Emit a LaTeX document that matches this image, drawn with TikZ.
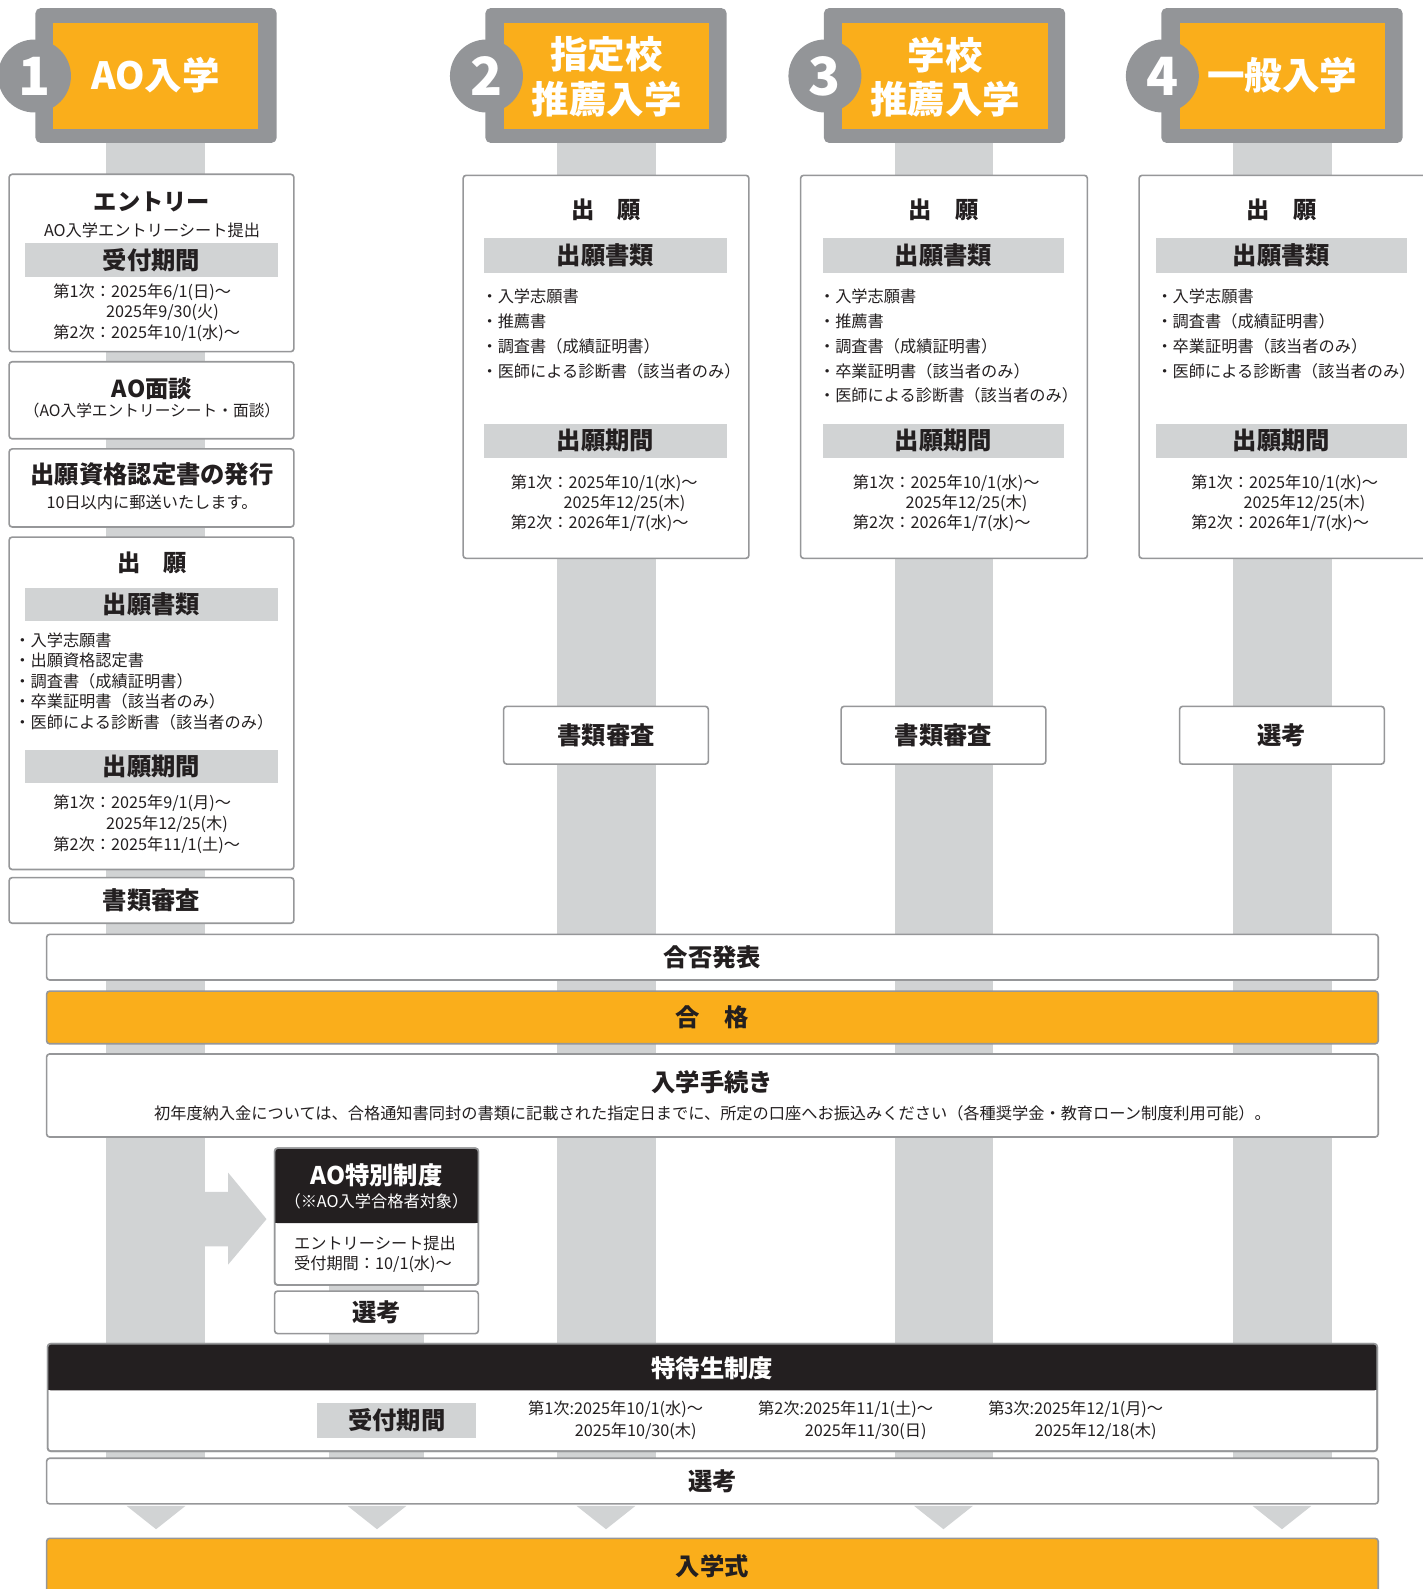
\documentclass[tikz,border=0pt]{standalone}
\usepackage{fontspec}
\setmainfont{Noto Sans CJK JP}
\definecolor{orng}{RGB}{250,174,27}
\definecolor{dgray}{RGB}{147,149,152}
\definecolor{lgray}{RGB}{209,211,212}
\definecolor{edge}{RGB}{150,151,153}
\definecolor{ink}{RGB}{35,31,32}
\newcommand{\fsz}[1]{\fontsize{#1}{#1}\selectfont}
\newcommand{\rbox}[6]{%
 \pgfmathsetmacro{\rbcx}{(#3+#5)/2}%
 \pgfmathsetmacro{\rbcy}{(#4+#6)/2}%
 \pgfmathsetmacro{\rbw}{#5-#3}%
 \pgfmathsetmacro{\rbh}{#6-#4}%
 \node[#2, minimum width=\rbw pt, minimum height=\rbh pt, inner sep=0pt, outer sep=0pt] (#1) at (\rbcx,\rbcy) {};}
\tikzset{
 tx/.style={inner sep=0pt, text=ink},
 hd/.style={tx, font=\fsz{24}\bfseries},
 sm/.style={tx, font=\fsz{16}},
 li/.style={sm, anchor=west},
 wh/.style={inner sep=0pt, text=white, font=\fsz{37}\bfseries},
 whs/.style={inner sep=0pt, text=white},
 num/.style={inner sep=0pt, text=white, font=\fsz{52}\bfseries},
 rb/.style={draw=edge, line width=1.6pt, rounded corners=3pt, fill=white},
 rbo/.style={rb, fill=orng},
 rbline/.style={draw=edge, line width=1.6pt, rounded corners=3pt},
 band/.style={fill=lgray},
 frame/.style={fill=dgray, rounded corners=5pt},
 orbox/.style={fill=orng},
 badge/.style={circle, fill=dgray, minimum size=72pt, inner sep=0pt},
}
\begin{document}
\begin{tikzpicture}[x=1pt,y=-1pt]
\useasboundingbox (0,0) rectangle (1404,1568);
\clip (0,0) rectangle (1404,1568);
% ---------- column bars ----------
\fill[lgray] (105,141) rectangle (202,1484);
\fill[lgray] (550,141) rectangle (647,1484);
\fill[lgray] (883,141) rectangle (980,1484);
\fill[lgray] (1217,141) rectangle (1314,1484);
\fill[lgray] (325,1210) rectangle (418,1484);
% triangles
\foreach \c in {154,372,598,931,1265}{
  \fill[lgray] (\c-29,1486) -- (\c+29,1486) -- (\c,1509) -- cycle;}
% arrow to AO special
\fill[lgray] (202,1176) -- (225,1176) -- (225,1157) -- (263,1203) -- (225,1248) -- (225,1230) -- (202,1230) -- cycle;
% ---------- headers ----------
\rbox{f1}{frame}{35}{8}{273}{141}
\rbox{o1}{orbox}{52}{23}{255}{127}
\node[badge] (c1) at (34,75) {};
\node[num] (n1) at (c1) {1};
\node[wh] (h1) at (153.5,74.5) {AO入学};
\rbox{f2}{frame}{479}{8}{717}{141}
\rbox{o2}{orbox}{497}{23}{700}{127}
\node[badge] (c2) at (480,75) {};
\node[num] (n2) at (c2) {2};
\node[wh] (h2a) at (598.5,54) {指定校};
\node[wh] (h2b) at (598.5,98) {推薦入学};
\rbox{f3}{frame}{813}{8}{1051}{141}
\rbox{o3}{orbox}{831}{23}{1034}{127}
\node[badge] (c3) at (814,75) {};
\node[num] (n3) at (c3) {3};
\node[wh] (h3a) at (932.5,54) {学校};
\node[wh] (h3b) at (932.5,98) {推薦入学};
\rbox{f4}{frame}{1146}{8}{1384}{141}
\rbox{o4}{orbox}{1164}{23}{1367}{127}
\node[badge] (c4) at (1147,75) {};
\node[num] (n4) at (c4) {4};
\node[wh] (h4) at (1265.5,74.5) {一般入学};
% ---------- column 1 ----------
\rbox{entry}{rb}{9}{172}{290}{347}
\node[tx, font=\fsz{23}\bfseries] (t-entry) at (150,199) {エントリー};
\node[sm] (t-entrysub) at (150,227.5) {AO入学エントリーシート提出};
\rbox{b-uke1}{band}{25}{240}{274}{273}
\node[hd] (t-uke1) at (b-uke1) {受付期間};
\node[li] (d1a) at (52.5,288.5) {第1次：2025年6/1(日)～};
\node[li] (d1b) at (104.5,308.5) {2025年9/30(火)};
\node[li] (d1c) at (52.5,328.5) {第2次：2025年10/1(水)～};
\rbox{mendan}{rb}{9}{357}{290}{433}
\node[tx, font=\fsz{23}\bfseries] (t-mendan) at (150,384) {AO面談};
\node[tx, font=\fsz{15.5}] (t-mendansub) at (150,405) {（AO入学エントリーシート・面談）};
\rbox{nintei}{rb}{9}{443}{290}{520}
\node[hd] (t-nintei) at (150,468) {出願資格認定書の発行};
\node[sm] (t-ninteisub) at (150,496) {10日以内に郵送いたします。};
\rbox{gan1}{rb}{9}{530}{290}{858}
\node[tx, font=\fsz{23}\bfseries] (t-gan1) at (150,555) {出\hspace{1em}願};
\rbox{b-sho1}{band}{25}{580}{274}{613}
\node[hd] (t-sho1) at (b-sho1) {出願書類};
\node[li] (i1a) at (14,632) {・入学志願書};
\node[li] (i1b) at (14,652) {・出願資格認定書};
\node[li] (i1c) at (14,672) {・調査書（成績証明書）};
\node[li] (i1d) at (14,692) {・卒業証明書（該当者のみ）};
\node[li] (i1e) at (14,713) {・医師による診断書（該当者のみ）};
\rbox{b-ki1}{band}{25}{740}{274}{773}
\node[hd] (t-ki1) at (b-ki1) {出願期間};
\node[li] (g1a) at (52.5,793) {第1次：2025年9/1(月)～};
\node[li] (g1b) at (104.5,813) {2025年12/25(木)};
\node[li] (g1c) at (52.5,834) {第2次：2025年11/1(土)～};
\rbox{shinsa1}{rb}{9}{866}{290}{911}
\node[hd] (t-shinsa1) at (shinsa1) {書類審査};
% ---------- column 2 ----------
\rbox{gan2}{rb}{457}{173}{739}{551}
\node[tx, font=\fsz{23}\bfseries] (t-gan2) at (598,207) {出\hspace{1em}願};
\rbox{b-sho2}{band}{478}{235}{717}{269}
\node[hd] (t-sho2) at (b-sho2) {出願書類};
\node[li] (i2a) at (475,292.5) {・入学志願書};
\node[li] (i2b) at (475,317) {・推薦書};
\node[li] (i2c) at (475,341.5) {・調査書（成績証明書）};
\node[li] (i2d) at (475,366) {・医師による診断書（該当者のみ）};
\rbox{b-ki2}{band}{478}{418}{717}{452}
\node[hd] (t-ki2) at (b-ki2) {出願期間};
\node[li] (g2a) at (504,476.5) {第1次：2025年10/1(水)～};
\node[li] (g2b) at (556,496.5) {2025年12/25(木)};
\node[li] (g2c) at (504,516.5) {第2次：2026年1/7(水)～};
\rbox{shinsa2}{rb}{497}{697}{699}{754}
\node[hd] (t-shinsa2) at (shinsa2) {書類審査};
% ---------- column 3 ----------
\rbox{gan3}{rb}{790}{173}{1073}{551}
\node[tx, font=\fsz{23}\bfseries] (t-gan3) at (931,207) {出\hspace{1em}願};
\rbox{b-sho3}{band}{812}{235}{1050}{269}
\node[hd] (t-sho3) at (b-sho3) {出願書類};
\node[li] (i3a) at (808,292.5) {・入学志願書};
\node[li] (i3b) at (808,317) {・推薦書};
\node[li] (i3c) at (808,341.5) {・調査書（成績証明書）};
\node[li] (i3d) at (808,366) {・卒業証明書（該当者のみ）};
\node[li] (i3e) at (808,390.5) {・医師による診断書（該当者のみ）};
\rbox{b-ki3}{band}{812}{418}{1050}{452}
\node[hd] (t-ki3) at (b-ki3) {出願期間};
\node[li] (g3a) at (841.5,476.5) {第1次：2025年10/1(水)～};
\node[li] (g3b) at (893.5,496.5) {2025年12/25(木)};
\node[li] (g3c) at (841.5,516.5) {第2次：2026年1/7(水)～};
\rbox{shinsa3}{rb}{830}{697}{1032}{754}
\node[hd] (t-shinsa3) at (shinsa3) {書類審査};
% ---------- column 4 ----------
\rbox{gan4}{rb}{1124}{173}{1424}{551}
\node[tx, font=\fsz{23}\bfseries] (t-gan4) at (1265,207) {出\hspace{1em}願};
\rbox{b-sho4}{band}{1141}{235}{1388}{269}
\node[hd] (t-sho4) at (b-sho4) {出願書類};
\node[li] (i4a) at (1141,292.5) {・入学志願書};
\node[li] (i4b) at (1141,317) {・調査書（成績証明書）};
\node[li] (i4c) at (1141,341.5) {・卒業証明書（該当者のみ）};
\node[li] (i4d) at (1141,366) {・医師による診断書（該当者のみ）};
\rbox{b-ki4}{band}{1141}{418}{1388}{452}
\node[hd] (t-ki4) at (b-ki4) {出願期間};
\node[li] (g4a) at (1175.5,476.5) {第1次：2025年10/1(水)～};
\node[li] (g4b) at (1227,496.5) {2025年12/25(木)};
\node[li] (g4c) at (1175.5,516.5) {第2次：2026年1/7(水)～};
\rbox{senko4}{rb}{1164}{697}{1366}{754}
\node[hd] (t-senko4) at (senko4) {選考};
% ---------- common bars ----------
\rbox{gohi}{rb}{46}{922}{1360}{967}
\node[hd] (t-gohi) at (gohi) {合否発表};
\rbox{gokaku}{rbo}{46}{978}{1360}{1030}
\node[hd] (t-gokaku) at (gokaku) {合\hspace{1em}格};
\rbox{tetsu}{rb}{46}{1040}{1360}{1122}
\node[hd] (t-tetsu) at (703,1068) {入学手続き};
\node[sm] (t-tetsusub) at (703,1099) {初年度納入金については、合格通知書同封の書類に記載された指定日までに、所定の口座へお振込みください（各種奨学金・教育ローン制度利用可能）。};
% ---------- AO special ----------
\rbox{aosp}{rb}{271}{1133}{472}{1268}
\fill[ink, rounded corners=3pt] (271,1133) rectangle (472,1207);
\fill[ink] (271,1195) rectangle (472,1207);
\draw[rbline] (aosp.north west) rectangle (aosp.south east);
\node[whs, font=\fsz{24}\bfseries] (t-aosp) at (371.5,1160) {AO特別制度};
\node[whs, font=\fsz{16}] (t-aospsub) at (371.5,1185) {（※AO入学合格者対象）};
\node[li] (t-aosp1) at (290,1227) {エントリーシート提出};
\node[li] (t-aosp2) at (290,1248) {受付期間：10/1(水)～};
\rbox{senko5}{rb}{271}{1274}{472}{1316}
\node[hd] (t-senko5) at (senko5) {選考};
% ---------- tokutai ----------
\rbox{toku}{rb}{47}{1326}{1359}{1432}
\fill[ink, rounded corners=3pt] (47,1326) rectangle (1359,1372);
\fill[ink] (47,1360) rectangle (1359,1372);
\draw[rbline] (toku.north west) rectangle (toku.south east);
\node[whs, font=\fsz{24}\bfseries] (t-toku) at (703,1350) {特待生制度};
\rbox{b-uke2}{band}{313}{1384}{470}{1419}
\node[hd] (t-uke2) at (b-uke2) {受付期間};
\node[li] (k1a) at (521,1391) {第1次:2025年10/1(水)～};
\node[li] (k1b) at (567,1412) {2025年10/30(木)};
\node[li] (k2a) at (748,1391) {第2次:2025年11/1(土)～};
\node[li] (k2b) at (794,1412) {2025年11/30(日)};
\node[li] (k3a) at (975,1391) {第3次:2025年12/1(月)～};
\node[li] (k3b) at (1021,1412) {2025年12/18(木)};
% ---------- final ----------
\rbox{senko}{rb}{46}{1439}{1360}{1484}
\node[hd] (t-senko) at (senko) {選考};
\rbox{nyugaku}{rbo}{46}{1518}{1360}{1600}
\node[hd] (t-nyugaku) at (703,1545) {入学式};
\end{tikzpicture}
\end{document}
